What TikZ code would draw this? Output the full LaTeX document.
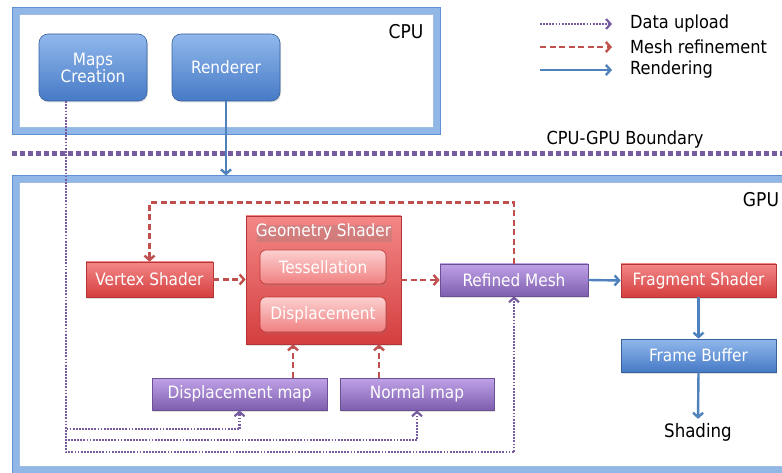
\documentclass[tikz,border=0pt]{standalone}
\usepackage{fontspec}
\setmainfont{DejaVu Sans Condensed}
\usetikzlibrary{arrows.meta,shadows,calc}
\definecolor{frameblue}{RGB}{145,183,230}
\definecolor{frameedge}{RGB}{95,145,210}
\definecolor{bluetop}{RGB}{145,184,236}
\definecolor{bluebot}{RGB}{70,122,198}
\definecolor{redtop}{RGB}{244,135,135}
\definecolor{redbot}{RGB}{212,62,62}
\definecolor{purtop}{RGB}{192,162,232}
\definecolor{purbot}{RGB}{126,94,174}
\definecolor{lineblue}{RGB}{79,129,189}
\definecolor{linered}{RGB}{192,80,77}
\definecolor{linepur}{RGB}{120,92,160}
\definecolor{pinktop}{RGB}{252,208,208}
\definecolor{pinkbot}{RGB}{240,128,128}
\tikzset{
  x=1pt, y=-1pt,
  box/.style={draw, line width=0.6pt, text=white, font=\fontsize{17}{19}\selectfont,
    inner sep=0pt, align=center,
    drop shadow={opacity=0.25, shadow xshift=1pt, shadow yshift=-1.5pt}},
  bluebox/.style={box, draw=bluebot!80!black, top color=bluetop, bottom color=bluebot, rounded corners=9pt},
  redbox/.style={box, draw=redbot!85!black, top color=redtop, bottom color=redbot},
  purbox/.style={box, draw=purbot!85!black, top color=purtop, bottom color=purbot},
  pinkbox/.style={box, draw=redbot!90!black, top color=pinktop, bottom color=pinkbot, rounded corners=6pt},
  framebox/.style={draw=frameblue, line width=7pt, inner sep=0pt},
  plain/.style={font=\fontsize{18}{20}\selectfont, inner sep=0pt},
  barb/.style={-{Straight Barb[length=4.5pt,width=10pt]}},
  flowblue/.style={draw=lineblue, line width=2.4pt, barb},
  flowred/.style={draw=linered, line width=2.4pt, dash pattern=on 6pt off 3.5pt, barb},
  flowpur/.style={draw=linepur, line width=2.2pt, dash pattern=on 1.8pt off 1.3pt, barb},
  boundary/.style={draw=linepur, line width=5pt, dash pattern=on 5pt off 3pt}
}
\begin{document}
\begin{tikzpicture}
\clip (0,0) rectangle (782,473);
\fill[white] (0,0) rectangle (782,473);

% frames
\node[framebox, minimum width=421pt, minimum height=120pt] (cpu) at (226.5,71) {};
\draw[frameedge, line width=0.7pt] (12.5,7.5) rectangle (440.5,134.5);
\draw[frameedge!60, line width=0.5pt] (19.5,14.5) rectangle (433.5,127.5);
\node[framebox, minimum width=784pt, minimum height=291pt] (gpu) at (408,324.5) {};
\draw[frameedge, line width=0.7pt] (12.5,175.5) rectangle (804,473.5);
\draw[frameedge!60, line width=0.5pt] (19.5,182.5) rectangle (797,466.5);

\node[plain, font=\fontsize{19}{21}\selectfont] (cpulabel) at (406,32) {CPU};
\node[plain, font=\fontsize{19}{21}\selectfont] (gpulabel) at (761,200) {GPU};
\node[plain] (bndlabel) at (625,140) {CPU-GPU Boundary};

% boundary
\coordinate (bl) at (12,154);
\coordinate (br) at (790,154);
\draw[boundary] (bl) -- (br);

% legend
\coordinate (l1a) at (540,24); \coordinate (l1b) at (612,24);
\coordinate (l2a) at (540,47); \coordinate (l2b) at (612,47);
\coordinate (l3a) at (540,70); \coordinate (l3b) at (612,70);
\draw[flowpur] (l1a) -- (l1b);
\draw[flowred] (l2a) -- (l2b);
\draw[flowblue] (l3a) -- (l3b);
\node[plain, anchor=west] (leg1) at (630,24) {Data upload};
\node[plain, anchor=west] (leg2) at (630,47) {Mesh refinement};
\node[plain, anchor=west] (leg3) at (630,70) {Rendering};

% CPU boxes
\node[bluebox, minimum width=108pt, minimum height=67pt] (maps) at (93,67.5) {Maps\\[-2pt]Creation};
\node[bluebox, minimum width=108pt, minimum height=67pt] (rend) at (226,67.5) {Renderer};

% GPU boxes
\node[redbox, minimum width=127pt, minimum height=35pt] (vs) at (149.5,279.5) {Vertex Shader};
\node[redbox, minimum width=155pt, minimum height=128pt] (gs) at (323.5,280) {};
\node[box, draw=none, drop shadow={opacity=0}] (gslabel) at (323.5,232) {Geometry Shader};
\node[pinkbox, minimum width=126pt, minimum height=34pt] (tess) at (323,267) {Tessellation};
\node[pinkbox, minimum width=126pt, minimum height=35pt] (disp) at (323,314.5) {Displacement};
\node[purbox, minimum width=148pt, minimum height=32pt] (rmesh) at (514,280) {Refined Mesh};
\node[redbox, minimum width=155pt, minimum height=33pt] (fs) at (698.5,280.5) {Fragment Shader};
\node[bluebox, rounded corners=0pt, minimum width=155pt, minimum height=33pt] (fb) at (698.5,355.5) {Frame Buffer};
\node[plain, font=\fontsize{18.5}{20}\selectfont] (shade) at (698,432) {Shading};
\node[purbox, minimum width=175pt, minimum height=32pt] (dmap) at (239.5,394) {Displacement map};
\node[purbox, minimum width=154pt, minimum height=32pt] (nmap) at (417,394) {Normal map};

% rendering connectors
\draw[flowblue] (rend.south) -- (rend.south |- gpu.north);
\draw[flowblue] (rmesh.east) -- (fs.west);
\draw[flowblue] (fs.south) -- (fb.north);
\draw[flowblue] (fb.south) -- ([yshift=4pt]shade.north);

% mesh refinement connectors
\draw[flowred] (vs.east) -- (vs.east -| gs.west);
\draw[flowred] (gs.east |- rmesh.west) -- (rmesh.west);
\draw[flowred] (rmesh.north) -- ++(0,-61) -| (vs.north);
\draw[flowred] ([xshift=53.5pt]dmap.north) -- ([xshift=53.5pt]dmap.north |- gs.south);
\draw[flowred] ([xshift=-38pt]nmap.north) -- ([xshift=-38pt]nmap.north |- gs.south);

% data upload connectors
\coordinate (mapsout) at ([xshift=-27pt]maps.south);
\draw[flowpur] (mapsout) |- ([yshift=-19pt]dmap.south) -- (dmap.south);
\draw[flowpur] (mapsout) |- ([yshift=-30pt]nmap.south) -- (nmap.south);
\draw[flowpur] (mapsout) |- ([yshift=-156pt]rmesh.south) -- (rmesh.south);
\end{tikzpicture}
\end{document}
